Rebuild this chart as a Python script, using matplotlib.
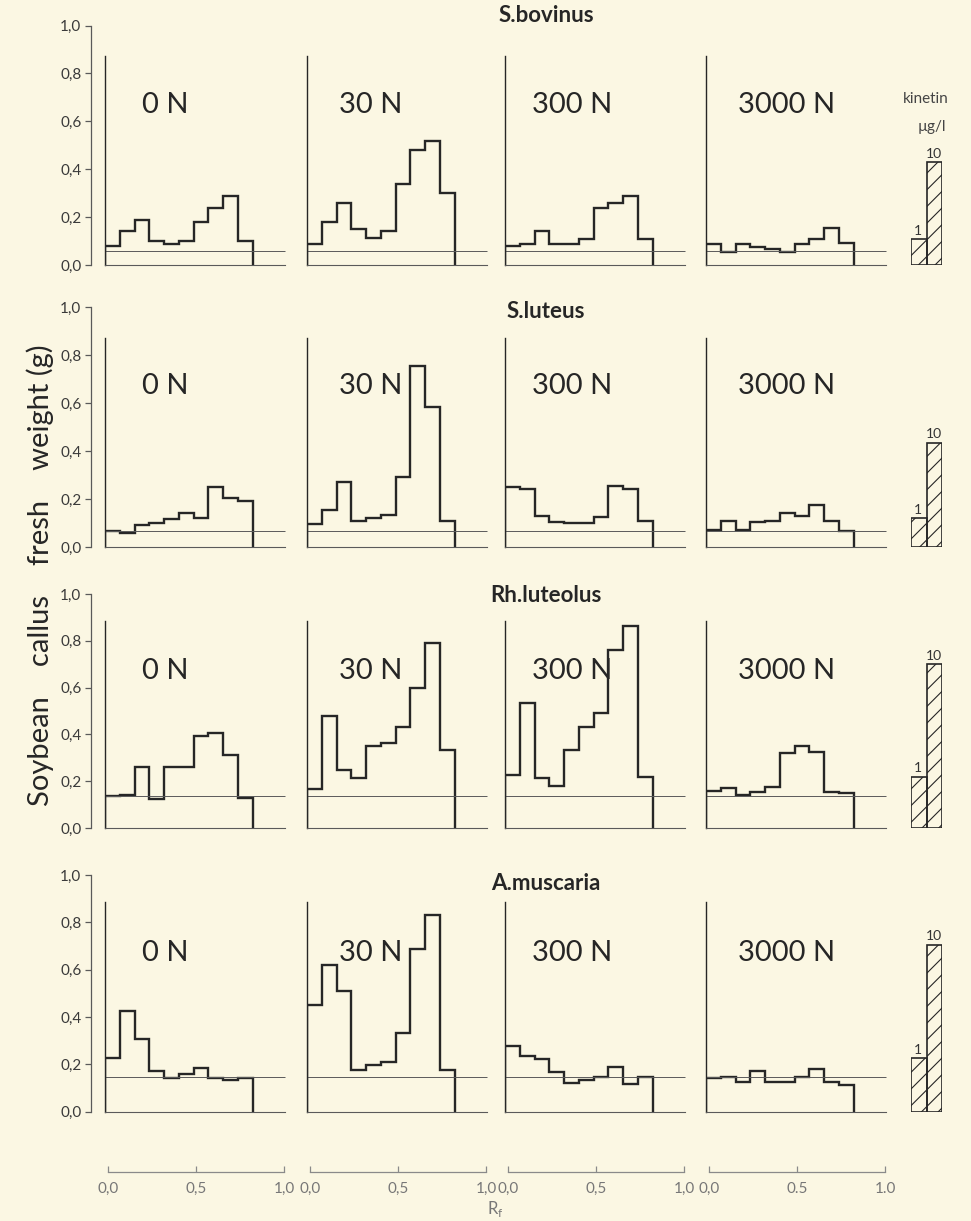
import numpy as np
import matplotlib.pyplot as plt

# ── Figure size in pixels (saved at 100 dpi) ─────────────────────────────────
W, H = 971, 1221
DPI = 100

# ── Data ─────────────────────────────────────────────────────────────────────
FUNGI = ['S.bovinus', 'S.luteus', 'Rh.luteolus', 'A.muscaria']
NITROGEN = ['0 N', '30 N', '300 N', '3000 N']
RF_EDGES = np.linspace(0.0, 0.84, 11)          # 10 chromatogram fractions

BOVINUS = [
    [0.08, 0.145, 0.19, 0.10, 0.09, 0.10, 0.18, 0.24, 0.29, 0.10],
    [0.09, 0.18, 0.26, 0.15, 0.115, 0.145, 0.34, 0.48, 0.52, 0.30],
    [0.08, 0.09, 0.145, 0.09, 0.09, 0.11, 0.24, 0.26, 0.29, 0.11],
    [0.09, 0.055, 0.09, 0.075, 0.07, 0.055, 0.09, 0.11, 0.155, 0.095],
]
LUTEUS = [
    [0.065, 0.06, 0.09, 0.10, 0.115, 0.14, 0.12, 0.25, 0.205, 0.19],
    [0.095, 0.155, 0.27, 0.11, 0.12, 0.135, 0.29, 0.755, 0.585, 0.11],
    [0.25, 0.24, 0.13, 0.105, 0.10, 0.10, 0.125, 0.255, 0.24, 0.11],
    [0.07, 0.11, 0.07, 0.105, 0.11, 0.14, 0.13, 0.175, 0.11, 0.065],
]
LUTEOLUS = [
    [0.135, 0.14, 0.26, 0.125, 0.26, 0.26, 0.395, 0.405, 0.31, 0.13],
    [0.165, 0.48, 0.25, 0.215, 0.35, 0.365, 0.43, 0.60, 0.79, 0.335],
    [0.225, 0.535, 0.215, 0.18, 0.335, 0.43, 0.49, 0.76, 0.865, 0.22],
    [0.16, 0.17, 0.14, 0.155, 0.175, 0.32, 0.35, 0.325, 0.155, 0.15],
]
MUSCARIA = [
    [0.225, 0.425, 0.305, 0.17, 0.14, 0.16, 0.185, 0.14, 0.135, 0.14],
    [0.45, 0.62, 0.51, 0.175, 0.195, 0.21, 0.33, 0.685, 0.83, 0.175],
    [0.275, 0.235, 0.22, 0.165, 0.12, 0.135, 0.145, 0.19, 0.115, 0.145],
    [0.14, 0.145, 0.125, 0.17, 0.125, 0.125, 0.145, 0.18, 0.125, 0.11],
]
HISTS = [BOVINUS, LUTEUS, LUTEOLUS, MUSCARIA]

# control level (thin horizontal line) per fungus
CONTROL = [0.062, 0.067, 0.138, 0.145]

# kinetin standards, µg/l
KINETIN_DOSE = ['1', '10']
KINETIN = [
    [0.11, 0.43],
    [0.12, 0.435],
    [0.22, 0.70],
    [0.225, 0.705],
]

Y_TICKS = [0.0, 0.2, 0.4, 0.6, 0.8, 1.0]
RF_TICKS = [0.0, 0.5, 1.0]
RF_LABELS = [['0,0', '0,5', '1,0'], ['0,0', '0,5', '1,0'],
             ['0,0', '0,5', '1,0'], ['0,0', '0.5', '1.0']]

# ── Layout (pixels) ──────────────────────────────────────────────────────────
ROW_TOP = [25.5, 307, 594, 875]        # pixel row of y = 1.0
ROW_BOT = [265.5, 547, 828, 1111.5]    # pixel row of y = 0.0
PANEL_X0 = [105, 307, 505, 706]        # pixel column of Rf = 0
PX_PER_RF = 176
PANEL_FRAME_TOP = [0.875, 0.87, 0.885, 0.885]
LABEL_X = [0.34, 0.36, 0.38, 0.455]
TITLE_Y = [16, 312, 596, 883]

BG = '#fbf7e3'
INK = '#262626'
THIN = '#5a5a5a'
GREY = '#8a8a8a'
FONT = ['Lato', 'DejaVu Sans']


def px_axes(fig, x0, y_top, w, h):
    ax = fig.add_axes([x0 / W, 1 - (y_top + h) / H, w / W, h / H])
    ax.patch.set_alpha(0)
    return ax


def fy(y):
    return 1 - y / H


plt.rcParams['hatch.linewidth'] = 0.8
plt.rcParams['hatch.color'] = '#3a3a3a'

fig = plt.figure(figsize=(W / DPI, H / DPI), dpi=DPI, facecolor=BG)

for r in range(4):
    top, bot = ROW_TOP[r], ROW_BOT[r]
    h = bot - top

    # ── shared y axis on the left ────────────────────────────────────────────
    ay = px_axes(fig, 91, top, 2, h)
    ay.set_ylim(0, 1)
    ay.set_xlim(0, 1)
    for s in ['top', 'right', 'bottom']:
        ay.spines[s].set_visible(False)
    ay.spines['left'].set_color(THIN)
    ay.spines['left'].set_linewidth(0.9)
    ay.set_xticks([])
    ay.set_yticks(Y_TICKS)
    ay.set_yticklabels([f'{v:.1f}'.replace('.', ',') for v in Y_TICKS],
                       fontsize=11, color='#3a3a3a', family=FONT)
    ay.tick_params(axis='y', direction='out', length=4, width=0.9,
                   color=THIN, pad=3)

    # ── fungus name ──────────────────────────────────────────────────────────
    fig.text(546 / W, fy(TITLE_Y[r]), FUNGI[r], ha='center', va='center',
             fontsize=16, fontweight='bold', color=INK, family=FONT)

    # ── four nitrogen panels ─────────────────────────────────────────────────
    for c in range(4):
        ax = px_axes(fig, PANEL_X0[c], top, 1.03 * PX_PER_RF, h)
        ax.set_xlim(0, 1.03)
        ax.set_ylim(0, 1)
        ax.set_xticks([])
        ax.set_yticks([])
        for s in ['top', 'right']:
            ax.spines[s].set_visible(False)
        ax.spines['left'].set_bounds(0, PANEL_FRAME_TOP[r])
        ax.spines['left'].set_linewidth(1.0)
        ax.spines['left'].set_color(INK)
        ax.spines['bottom'].set_bounds(0, 1.02)
        ax.spines['bottom'].set_linewidth(0.8)
        ax.spines['bottom'].set_color(THIN)

        ax.hlines(CONTROL[r], 0, 1.02, color=THIN, lw=0.7)
        ax.stairs(HISTS[r][c], RF_EDGES, baseline=0, color=INK, lw=1.7)

        ax.text(LABEL_X[c], 0.67, NITROGEN[c], ha='center', va='center',
                fontsize=21, color=INK, family=FONT)

    # ── kinetin standards ────────────────────────────────────────────────────
    ak = px_axes(fig, 911, top, 31, h)
    ak.set_xlim(-0.5, 1.5)
    ak.set_ylim(0, 1)
    ak.axis('off')
    ak.bar(range(len(KINETIN[r])), KINETIN[r], width=1.0,
           facecolor='none', edgecolor=INK, lw=1.2, hatch='//')
    for i, v in enumerate(KINETIN[r]):
        ak.text(i - 0.05 * (1 - i), v + 0.01, KINETIN_DOSE[i], ha='center',
                va='bottom', fontsize=10, color='#333333', family=FONT)

fig.text(926 / W, fy(99), 'kinetin', ha='center', va='center',
         fontsize=11, color='#444444', family=FONT)
fig.text(932 / W, fy(127), 'µg/l', ha='center', va='center',
         fontsize=11, color='#444444', family=FONT)

# ── Rf scales along the bottom ───────────────────────────────────────────────
for c in range(4):
    ab = px_axes(fig, PANEL_X0[c] + 3, 1150, 1.03 * PX_PER_RF, 22)
    ab.set_xlim(0, 1.03)
    ab.set_ylim(0, 1)
    for s in ['top', 'right', 'left']:
        ab.spines[s].set_visible(False)
    ab.spines['bottom'].set_bounds(0, 1)
    ab.spines['bottom'].set_color(GREY)
    ab.spines['bottom'].set_linewidth(0.9)
    ab.set_yticks([])
    ab.set_xticks(RF_TICKS)
    ab.set_xticklabels(RF_LABELS[c], fontsize=11, color='#777777',
                       family=FONT)
    ab.tick_params(axis='x', direction='in', length=4, width=0.9,
                   color=GREY, pad=7)

fig.text(495 / W, fy(1219), 'R$_\\mathregular{f}$', ha='center', va='bottom',
         fontsize=12, color='#777777', family=FONT)

fig.text(40 / W, fy(575), 'Soybean    callus    fresh    weight (g)',
         rotation=90, ha='center', va='center', fontsize=21, color=INK,
         family=FONT)

fig.savefig('out.png', dpi=DPI, facecolor=BG)
